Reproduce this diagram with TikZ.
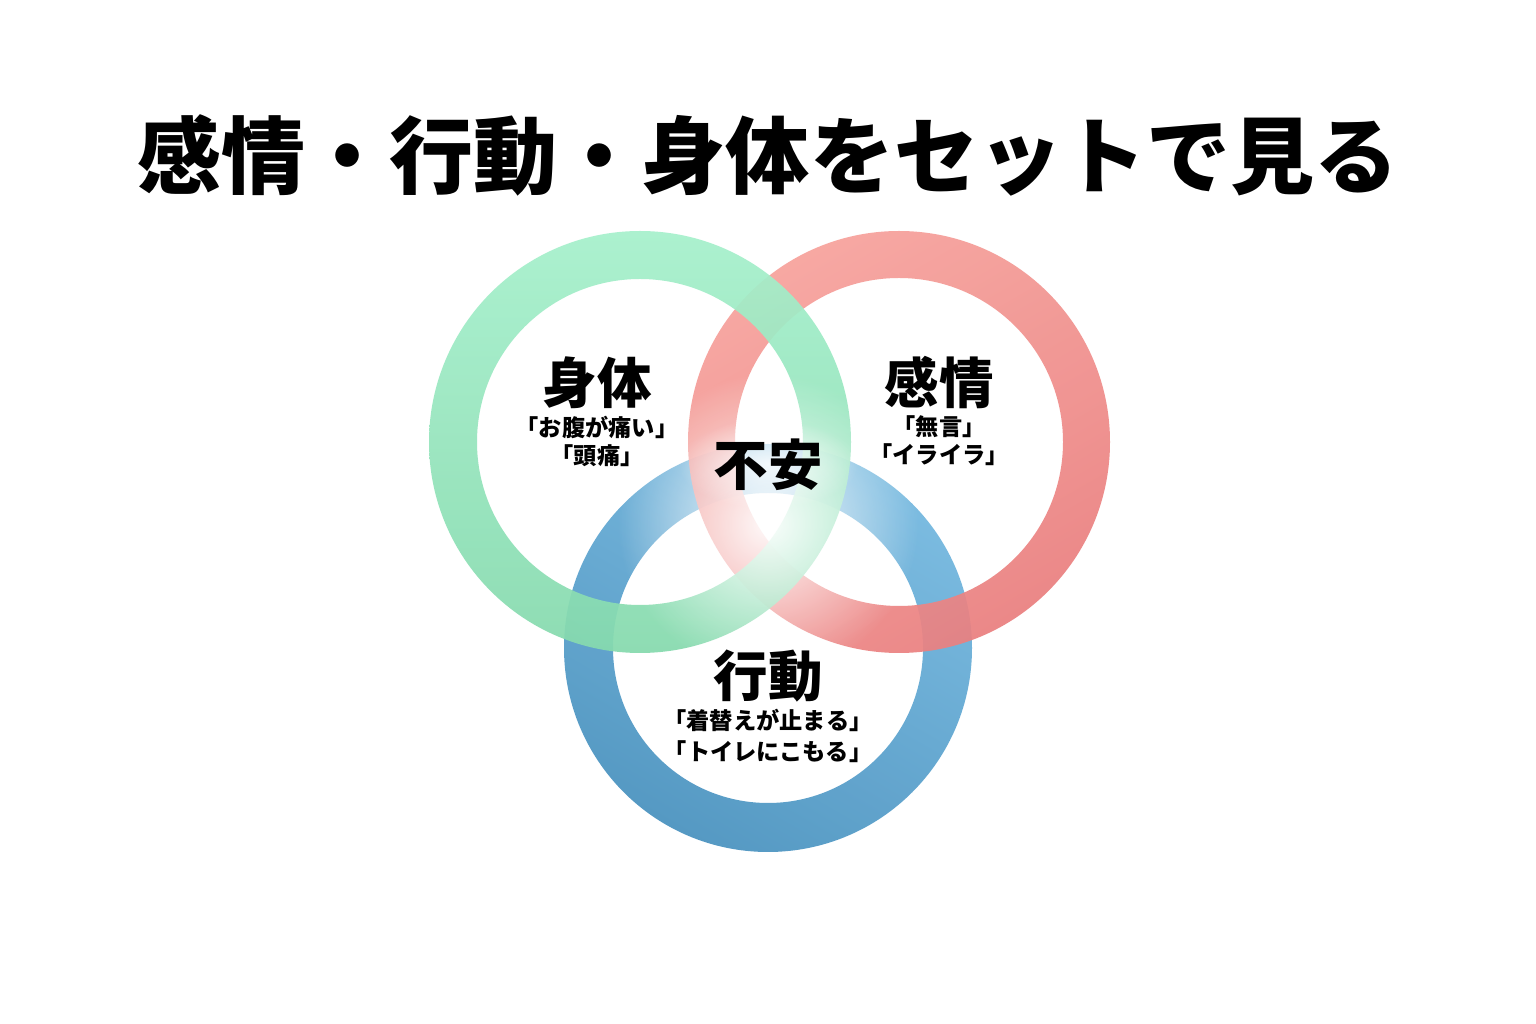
\documentclass[tikz,border=0pt]{standalone}
\usepackage{fontspec}
\setmainfont{Noto Sans CJK JP}
\usetikzlibrary{fadings}

\definecolor{greenlight}{HTML}{A6F0CC}
\definecolor{greendark}{HTML}{86DAAE}
\definecolor{redlight}{HTML}{F7A29C}
\definecolor{reddark}{HTML}{EA8080}
\definecolor{bluelight}{HTML}{78BAE0}
\definecolor{bluedark}{HTML}{5096C2}

\tikzfading[name=glowfade, inner color=transparent!0, outer color=transparent!100]

\tikzset{
  heading/.style={font=\bfseries\fontsize{23.9}{28}\selectfont},
  ringname/.style={font=\bfseries\fontsize{15.5}{18}\selectfont},
  example/.style={font=\bfseries\fontsize{6.6}{8}\selectfont, inner sep=0pt}
}

\begin{document}
\begin{tikzpicture}[x=0.01cm,y=0.01cm]
        \useasboundingbox[fill=white] (0,0) rectangle (1536,1024);
        \coordinate (g) at (640,582);
        \coordinate (r) at (899,582);
        \coordinate (b) at (768,376);
        % rings
        \shade[even odd rule, top color=bluelight, bottom color=bluedark, shading angle=-30, opacity=0.97] (b) circle (204) (b) circle (155);
        \shade[even odd rule, top color=redlight, bottom color=reddark, shading angle=30, opacity=0.93] (r) circle (211) (r) circle (164);
        \shade[even odd rule, top color=greenlight, bottom color=greendark, opacity=0.93] (g) circle (211) (g) circle (163);
        % soft white centre
        \fill[white, path fading=glowfade, fill opacity=0.95] (768,500) circle (150);
        \fill[white, path fading=glowfade, fill opacity=0.8] (768,560) ellipse (90 and 45);

        \node[heading] (title) at (768,869) {感情・行動・身体をセットで見る};

        \node[ringname] (body) at (597,641) {身体};
        \node[example] (body1) at (597,597) {「お腹が痛い」};
        \node[example] (body2) at (597,568) {「頭痛」};

        \node[ringname] (feel) at (939,641) {感情};
        \node[example] (feel1) at (939,597) {「無言」};
        \node[example] (feel2) at (939,569) {「イライラ」};

        \node[ringname] (anx) at (768,559) {不安};

        \node[ringname] (act) at (768,348) {行動};
        \node[example] (act1) at (768,304) {「着替えが止まる」};
        \node[example] (act2) at (768,272) {「トイレにこもる」};
    \end{tikzpicture}
\end{document}
